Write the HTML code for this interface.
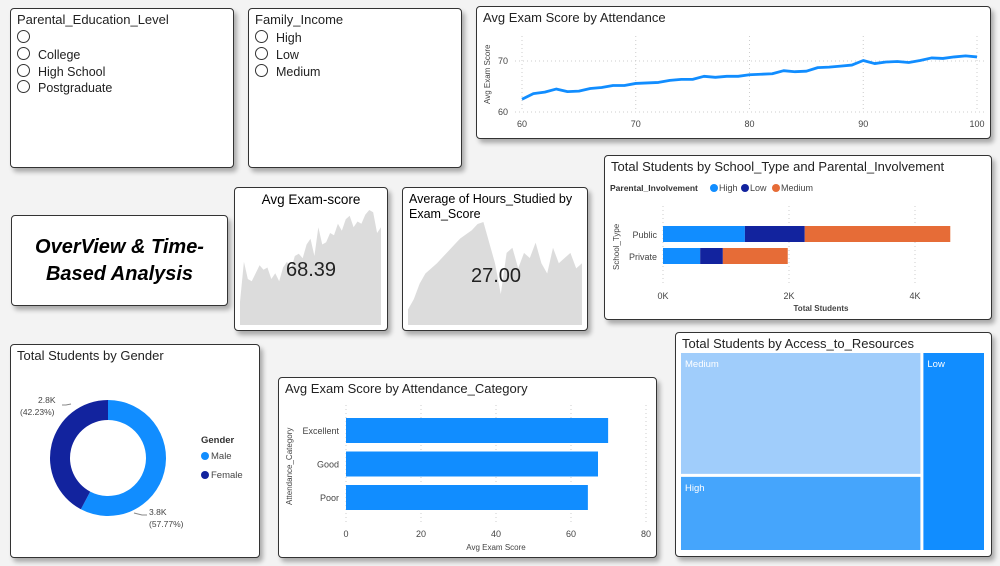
<!DOCTYPE html>
<html><head><meta charset="utf-8">
<style>
body{margin:0;width:1000px;height:566px;background:#f3f3f3;font-family:"Liberation Sans",sans-serif;overflow:hidden;position:relative}
.p{position:absolute;background:#fff;border:1px solid #333;border-radius:4px;box-shadow:3px 4px 5px rgba(0,0,0,.3);box-sizing:border-box}
.t{position:absolute;left:6px;top:3px;font-size:13px;color:#222}
.s{position:absolute;font-size:12.5px;color:#222;left:6px}
.s i{display:inline-block;width:11px;height:11px;border:1px solid #333;border-radius:50%;margin-right:8px;vertical-align:-1px}
svg text{font-family:"Liberation Sans",sans-serif}
</style></head><body>
<div class="p" style="left:10px;top:8px;width:224px;height:160px">
<div class="t">Parental_Education_Level</div>
<div class="s" style="top:21px"><i></i></div>
<div class="s" style="top:38px"><i></i>College</div>
<div class="s" style="top:55px"><i></i>High School</div>
<div class="s" style="top:71px"><i></i>Postgraduate</div>
</div>
<div class="p" style="left:248px;top:8px;width:214px;height:160px">
<div class="t">Family_Income</div>
<div class="s" style="top:21px"><i></i>High</div>
<div class="s" style="top:38px"><i></i>Low</div>
<div class="s" style="top:55px"><i></i>Medium</div>
</div>
<div class="p" style="left:476px;top:6px;width:515px;height:133px"><div class="t">Avg Exam Score by Attendance</div></div>
<div class="p" style="left:11px;top:215px;width:217px;height:91px;display:flex;align-items:center;justify-content:center;text-align:center"><div style="font-size:20px;font-weight:bold;font-style:italic;line-height:27px">OverView &amp; Time-<br>Based Analysis</div></div>
<div class="p" style="left:234px;top:187px;width:154px;height:144px"><div style="position:absolute;top:4px;width:100%;text-align:center;font-size:13.5px">Avg Exam-score</div></div>
<div class="p" style="left:402px;top:187px;width:186px;height:144px"><div style="position:absolute;top:4px;left:6px;font-size:12.5px;line-height:15px">Average of Hours_Studied by<br>Exam_Score</div></div>
<div class="p" style="left:604px;top:155px;width:388px;height:165px"><div class="t">Total Students by School_Type and Parental_Involvement</div></div>
<div class="p" style="left:10px;top:344px;width:250px;height:214px"><div class="t">Total Students by Gender</div></div>
<div class="p" style="left:278px;top:377px;width:379px;height:181px"><div class="t">Avg Exam Score by Attendance_Category</div></div>
<div class="p" style="left:675px;top:332px;width:317px;height:225px"><div class="t">Total Students by Access_to_Resources</div></div>

<svg id="g" width="1000" height="566" style="position:absolute;left:0;top:0"></svg>
<script>
// Line chart data
const attX=[60,61,62,63,64,65,66,67,68,69,70,71,72,73,74,75,76,77,78,79,80,81,82,83,84,85,86,87,88,89,90,91,92,93,94,95,96,97,98,99,100];
const attY=[62.5,63.6,63.9,64.5,64.0,64.1,64.6,64.8,65.2,65.2,65.6,65.7,65.8,66.2,66.4,66.4,67.0,66.8,67.0,67.0,67.3,67.4,67.5,68.1,67.9,68.0,68.7,68.8,69.0,69.2,70.1,69.5,69.8,69.9,69.7,70.1,70.6,70.5,70.8,71.0,70.8];
const lineXTicks=[60,70,80,90,100];
const lineYTicks=[60,70];
// Stacked bar data
const schoolTypes=['Public','Private'];
const involveSeries=['High','Low','Medium'];
const involveVals=[[1300,590],[950,360],[2310,1030]];
const stackTicks=[0,2000,4000];
const stackTickLabels=['0K','2K','4K'];
// Gender donut
const genders=['Male','Female'];
const genderVals=[3800,2780];
const genderLabels=['3.8K','2.8K'];
const genderPct=['57.77%','42.23%'];
// Attendance category
const attCats=['Excellent','Good','Poor'];
const attCatVals=[69.9,67.2,64.5];
const attTicks=[0,20,40,60,80];
// Treemap
const resCats=['Medium','High','Low'];
const resVals=[3320,1960,1320];
// KPI sparklines
const spark1=[20,55,40,38,45,52,48,50,40,45,38,50,55,48,60,62,58,70,75,60,85,70,72,80,78,88,82,92,95,85,90,88,96,100,98,80,85];
const spark2=[15,25,40,50,55,60,66,72,78,84,88,92,98,100,80,60,30,70,75,55,70,65,80,60,50,75,60,65,70,55,60];

const S='http://www.w3.org/2000/svg',g=document.getElementById('g');
function el(t,a,p){const e=document.createElementNS(S,t);for(const k in a)e.setAttribute(k,a[k]);(p||g).appendChild(e);return e}
function tx(x,y,s,a){const e=el('text',Object.assign({x:x,y:y,'font-size':9,fill:'#444'},a||{}));e.textContent=s;return e}

// line chart
const lx=v=>522+(v-60)*(977-522)/40, ly=v=>112-(v-60)*(112-61)/10;
lineXTicks.forEach(v=>{const l=el('line',{x1:lx(v),x2:lx(v),y1:36,y2:112,stroke:'#ccc','stroke-dasharray':'1 3'});
const t=tx(lx(v),127,v,{'text-anchor':'middle'});});
lineYTicks.forEach(v=>{const l=el('line',{x1:515,x2:985,y1:ly(v),y2:ly(v),stroke:'#ccc','stroke-dasharray':'1 3'});
const t=tx(508,ly(v)+3,v,{'text-anchor':'end'});});
let yt=tx(0,0,'Avg Exam Score',{transform:'translate(490,104) rotate(-90)','font-size':8});

const lp=el('polyline',{points:attX.map((x,i)=>lx(x)+','+ly(attY[i])).join(' '),fill:'none',stroke:'#118dff','stroke-width':2.8,'stroke-linejoin':'round'});


// stacked bar
const sx=v=>663+v*63/1000, sRowY=[226,248], colors=['#118dff','#12239e','#e66c37'];
stackTicks.forEach((v,i)=>{const l=el('line',{x1:sx(v),x2:sx(v),y1:206,y2:284,stroke:'#ccc','stroke-dasharray':'1 3'});
const t=tx(sx(v),299,stackTickLabels[i],{'text-anchor':'middle'});});
schoolTypes.forEach((s,r)=>{let acc=0;involveSeries.forEach((n,k)=>{const v=involveVals[k][r];
const b=el('rect',{x:sx(acc),y:sRowY[r],width:v*63/1000,height:16,fill:colors[k]});acc+=v;});
const t=tx(657,sRowY[r]+12,s,{'text-anchor':'end'});});
let t1=tx(821,311,'Total Students',{'text-anchor':'middle','font-size':8,'font-weight':'bold'});
let t2=tx(0,0,'School_Type',{transform:'translate(619,270) rotate(-90)','font-size':8});
let lt=tx(610,191,'Parental_Involvement',{'font-size':8.5,'font-weight':'bold','fill':'#333'});
[710,741,772].forEach((x,k)=>{const c=el('circle',{cx:x+4,cy:188,r:4,fill:colors[k]});
const t=tx(x+9,191,involveSeries[k],{'font-size':9});});

// donut
const cx=108,cy=458,R=58,ri=38,tot=genderVals.reduce((a,b)=>a+b,0),gc=['#118dff','#12239e'];
let ang=0;genderVals.forEach((v,i)=>{const a0=ang,a1=ang+v/tot*2*Math.PI;ang=a1;
const p=(a,r)=>[cx+r*Math.sin(a),cy-r*Math.cos(a)],lg=(a1-a0)>Math.PI?1:0;
const [x0,y0]=p(a0,R),[x1,y1]=p(a1,R),[x2,y2]=p(a1,ri),[x3,y3]=p(a0,ri);
const s=el('path',{d:`M${x0},${y0}A${R},${R} 0 ${lg} 1 ${x1},${y1}L${x2},${y2}A${ri},${ri} 0 ${lg} 0 ${x3},${y3}Z`,fill:gc[i]});
});
el('polyline',{points:'134,513 142,515 147,515',fill:'none',stroke:'#888'});
el('polyline',{points:'71,404 66,405 62,405',fill:'none',stroke:'#888'});
[[149,515,0],[20,403,1]].forEach(([x,y,i])=>{const a=tx(x+ (i?18:0),y,genderLabels[i],{'font-size':8.5});
const b=tx(x,y+12,'('+genderPct[i]+')',{'font-size':8.5});});
let gt=tx(201,443,'Gender',{'font-size':9.5,'font-weight':'bold','fill':'#333'});
genders.forEach((n,i)=>{const c=el('circle',{cx:205,cy:456+i*19,r:4,fill:gc[i]});
const t=tx(211,459+i*19,n,{'font-size':9.5});});

// attendance bars
const ax=v=>346+v*3.75;
attTicks.forEach(v=>{const l=el('line',{x1:ax(v),x2:ax(v),y1:405,y2:522,stroke:'#ccc','stroke-dasharray':'1 3'});
const t=tx(ax(v),537,v,{'text-anchor':'middle'});});
attCats.forEach((c,i)=>{const y=418+i*33.5;const b=el('rect',{x:346,y:y,width:ax(attCatVals[i])-346,height:25,fill:'#118dff'});
const t=tx(339,y+16,c,{'text-anchor':'end'});});
let t3=tx(496,550,'Avg Exam Score',{'text-anchor':'middle','font-size':8});
let t4=tx(0,0,'Attendance_Category',{transform:'translate(292,505) rotate(-90)','font-size':8});

// treemap
const TX=681,TY=353,TW=303,TH=197,leftSum=resVals[0]+resVals[1],totR=leftSum+resVals[2];
const lw=TW*leftSum/totR, mh=TH*resVals[0]/leftSum;
[[TX,TY,lw-3,mh-3,'#a0cdfb',0],[TX,TY+mh,lw-3,TH-mh,'#45a5fc',1],[TX+lw,TY,TW-lw,TH,'#118dff',2]].forEach(([x,y,w,h,f,i])=>{
const r=el('rect',{x:x,y:y,width:w,height:h,fill:f});
const t=tx(x+4,y+14,resCats[i],{'font-size':9.5,fill:'#fff'});});

// sparklines
function spark(d,x0,x1,yb,yt,name){const mx=Math.max(...d);const pts=d.map((v,i)=>(x0+i*(x1-x0)/(d.length-1))+','+(yb-v/mx*(yb-yt)));
const p=el('polygon',{points:x0+','+yb+' '+pts.join(' ')+' '+x1+','+yb,fill:'#dcdcdc'});}
spark(spark1,240,381,325,210,'sparkline-exam');
spark(spark2,408,582,325,222,'sparkline-hours');
let k1=tx(311,276,'68.39',{'font-size':20,'text-anchor':'middle',fill:'#222'});
let k2=tx(496,282,'27.00',{'font-size':20,'text-anchor':'middle',fill:'#222'});
</script>
</body></html>
